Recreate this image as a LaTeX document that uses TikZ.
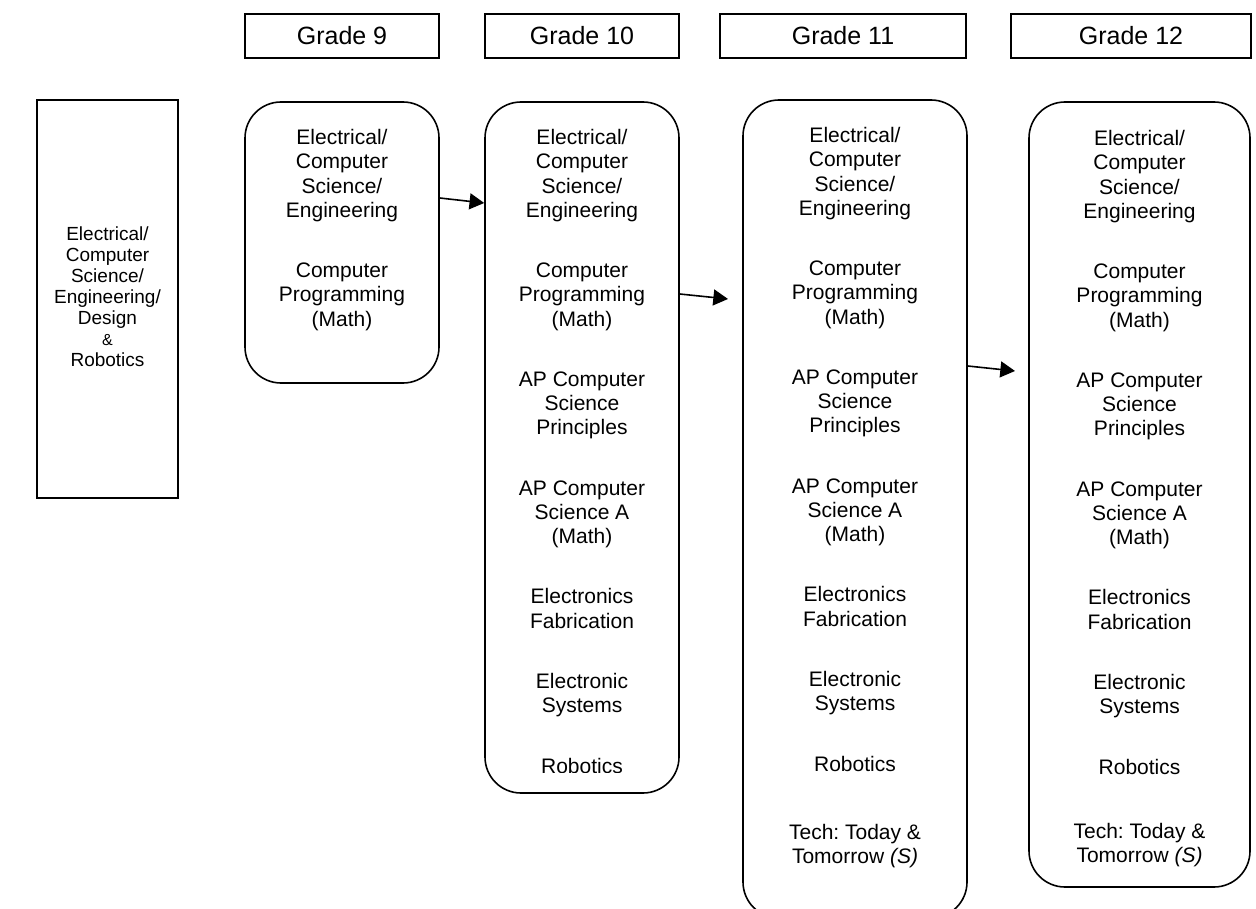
\documentclass[tikz,border=0pt]{standalone}
\usepackage{fontspec}
\setmainfont{Liberation Sans}
\usetikzlibrary{arrows.meta}
\frenchspacing
\begin{document}
\begin{tikzpicture}[x=0.75pt,y=-0.75pt,
  hdr/.style={draw,line width=1pt,minimum height=33pt,inner sep=0pt,font=\fontsize{18.75}{22}\selectfont},
  rbox/.style={draw,line width=1.2pt,rounded corners=27pt,inner sep=0pt},
  sbox/.style={draw,line width=1.2pt,inner sep=0pt},
  course/.style={align=center,inner sep=0pt,anchor=north,font=\fontsize{15.75}{18.2}\selectfont},
  arr/.style={line width=1.2pt,-{Triangle[length=11pt,width=12pt]}}]
\useasboundingbox (0,0) rectangle (1256,909);
\clip (0,0) rectangle (1256,909);

% headers
\node[hdr,minimum width=145.5pt] (h9)  at (342,36)  {Grade 9};
\node[hdr,minimum width=145.5pt] (h10) at (582,36)  {Grade 10};
\node[hdr,minimum width=184.5pt] (h11) at (843,36)  {Grade 11};
\node[hdr,minimum width=180pt]   (h12) at (1131,36) {Grade 12};

% left box
\node[sbox,minimum width=105.75pt,minimum height=298.5pt] (lb) at (107.5,299) {};
\node[align=center,inner sep=0pt,font=\fontsize{14.25}{15.75}\selectfont] (lt) at (107.5,297)
  {Electrical/\\Computer\\Science/\\Engineering/\\Design\\{\fontsize{12}{15.75}\selectfont\&}\\Robotics};

% course boxes
\node[rbox,minimum width=145.5pt,minimum height=210.75pt] (g9)  at (342,242.5) {};
\node[rbox,minimum width=145.5pt,minimum height=518.25pt] (g10) at (582,447.5) {};
\node[rbox,minimum width=168pt,minimum height=613.5pt]    (g11) at (855,509) {};
\node[rbox,minimum width=165.75pt,minimum height=588.75pt] (g12) at (1139.5,494.5) {};

\node[course] (t9) at (342,129)
  {Electrical/\\Computer\\Science/\\Engineering\\[27pt]
   Computer\\Programming\\(Math)};

\begin{scope}
\clip (0,0) rectangle (1256,772);
\node[course] (t10) at (582,129)
  {Electrical/\\Computer\\Science/\\Engineering\\[27pt]
   Computer\\Programming\\(Math)\\[27pt]
   AP Computer\\Science\\Principles\\[27pt]
   AP Computer\\Science A\\(Math)\\[27pt]
   Electronics\\Fabrication\\[27pt]
   Electronic\\Systems\\[27pt]
   Robotics};
\end{scope}

\node[course] (t11) at (855,127)
  {Electrical/\\Computer\\Science/\\Engineering\\[27pt]
   Computer\\Programming\\(Math)\\[27pt]
   AP Computer\\Science\\Principles\\[27pt]
   AP Computer\\Science A\\(Math)\\[27pt]
   Electronics\\Fabrication\\[27pt]
   Electronic\\Systems\\[27pt]
   Robotics\\[33pt]
   Tech: Today \&\\Tomorrow \textit{(S)}};

\node[course] (t12) at (1139.5,130)
  {Electrical/\\Computer\\Science/\\Engineering\\[27pt]
   Computer\\Programming\\(Math)\\[27pt]
   AP Computer\\Science\\Principles\\[27pt]
   AP Computer\\Science A\\(Math)\\[27pt]
   Electronics\\Fabrication\\[27pt]
   Electronic\\Systems\\[27pt]
   Robotics\\[30pt]
   Tech: Today \&\\Tomorrow \textit{(S)}};

% arrows
\coordinate (a2e) at (728,299);
\coordinate (a3e) at (1015,371);
\draw[arr] (g9.east |- 0,198) -- (g10.west |- 0,203);
\draw[arr] (g10.east |- 0,294) -- (a2e);
\draw[arr] (g11.east |- 0,366) -- (a3e);
\end{tikzpicture}
\end{document}
